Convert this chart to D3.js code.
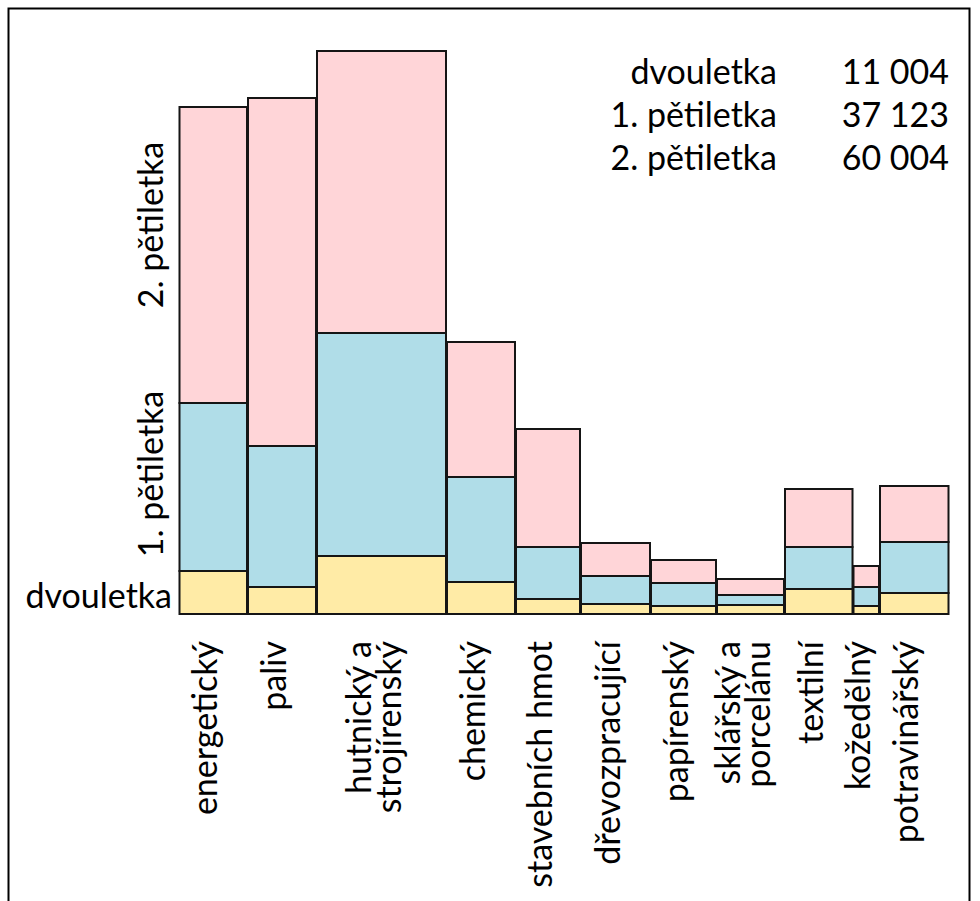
<!DOCTYPE html>
<html>
<head>
<meta charset="utf-8">
<script src="https://cdn.jsdelivr.net/npm/d3@7"></script>
<style>
  html, body { margin: 0; padding: 0; background: #fff; }
  svg text { font-family: Lato, "Open Sans", sans-serif; fill: #000; }
</style>
</head>
<body>
<svg id="chart" width="980" height="901"></svg>
<script>
// ---- data ----
const categories = [
  ["energetický"], ["paliv"], ["hutnický a", "strojírenský"], ["chemický"],
  ["stavebních hmot"], ["dřevozpracující"], ["papírenský"], ["sklářský a", "porcelánu"],
  ["textilní"], ["kožedělný"], ["potravinářský"]
];
// relative bar widths (weights)
const widths = [68.5, 69, 130, 69, 65, 70, 66, 68, 68.5, 26.5, 69.5];
// stacked segment heights
const dvouletka   = [43, 27, 58, 32, 15, 10, 8, 9, 25, 8, 21];
const petiletka1  = [168, 141, 223, 105, 52, 28, 23, 10, 42, 19, 51];
const petiletka2  = [296, 348, 282, 135, 118, 33, 23, 16, 58, 21, 56];
const periods = ["dvouletka", "1. pětiletka", "2. pětiletka"];
const periodTotals = ["11 004", "37 123", "60 004"];
const colors = ["#FFEBA6", "#B0DDE8", "#FFD5D8"];

// ---- layout ----
const svg = d3.select("#chart");
const fontSize = 34;

svg.append("rect")
  .attr("x", 8.5).attr("y", 8.5).attr("width", 961).attr("height", 910)
  .attr("fill", "none").attr("stroke", "#000").attr("stroke-width", 2);

const cum = [0];
widths.forEach((w, i) => cum.push(cum[i] + w));
const x = d3.scaleLinear().domain([0, cum[cum.length - 1]]).range([179, 949]);
const y = d3.scaleLinear().domain([0, 570]).range([614, 44]);

const rows = categories.map((c, i) => ({
  i, x0: cum[i], x1: cum[i + 1],
  [periods[0]]: dvouletka[i], [periods[1]]: petiletka1[i], [periods[2]]: petiletka2[i]
}));
const stack = d3.stack().keys(periods)(rows);

const g = svg.append("g");
stack.forEach((layer, li) => {
  g.selectAll(null).data(layer).enter().append("rect")
    .attr("x", d => x(d.data.x0) + 0.5)
    .attr("width", d => x(d.data.x1) - x(d.data.x0) - 1)
    .attr("y", d => y(d[1]))
    .attr("height", d => y(d[0]) - y(d[1]))
    .attr("fill", colors[li])
    .attr("stroke", "#151515")
    .attr("stroke-width", 2);
});

// category labels (rotated)
const lineGap = 30;
rows.forEach((r, i) => {
  const cx = (x(r.x0) + x(r.x1)) / 2;
  const lines = categories[i];
  lines.forEach((t, k) => {
    const off = (k - (lines.length - 1) / 2) * lineGap;
    svg.append("text")
      .attr("transform", `translate(${cx + off},641) rotate(-90)`)
      .attr("text-anchor", "end")
      .attr("dy", "0.12em")
      .attr("font-size", fontSize)
      .text(t);
  });
});

// period labels on the left
svg.append("text")
  .attr("transform", "translate(163,225) rotate(-90)")
  .attr("text-anchor", "middle").attr("font-size", fontSize)
  .text(periods[2]);
svg.append("text")
  .attr("transform", "translate(163,474) rotate(-90)")
  .attr("text-anchor", "middle").attr("font-size", fontSize)
  .text(periods[1]);
svg.append("text")
  .attr("x", 172).attr("y", 608)
  .attr("text-anchor", "end").attr("font-size", fontSize)
  .text(periods[0]);

// legend with totals
periods.forEach((p, i) => {
  const by = 84 + i * 43;
  svg.append("text").attr("x", 777).attr("y", by)
    .attr("text-anchor", "end").attr("font-size", fontSize).text(p);
  svg.append("text").attr("x", 949).attr("y", by)
    .attr("text-anchor", "end").attr("font-size", fontSize).text(periodTotals[i]);
});
</script>
</body>
</html>
